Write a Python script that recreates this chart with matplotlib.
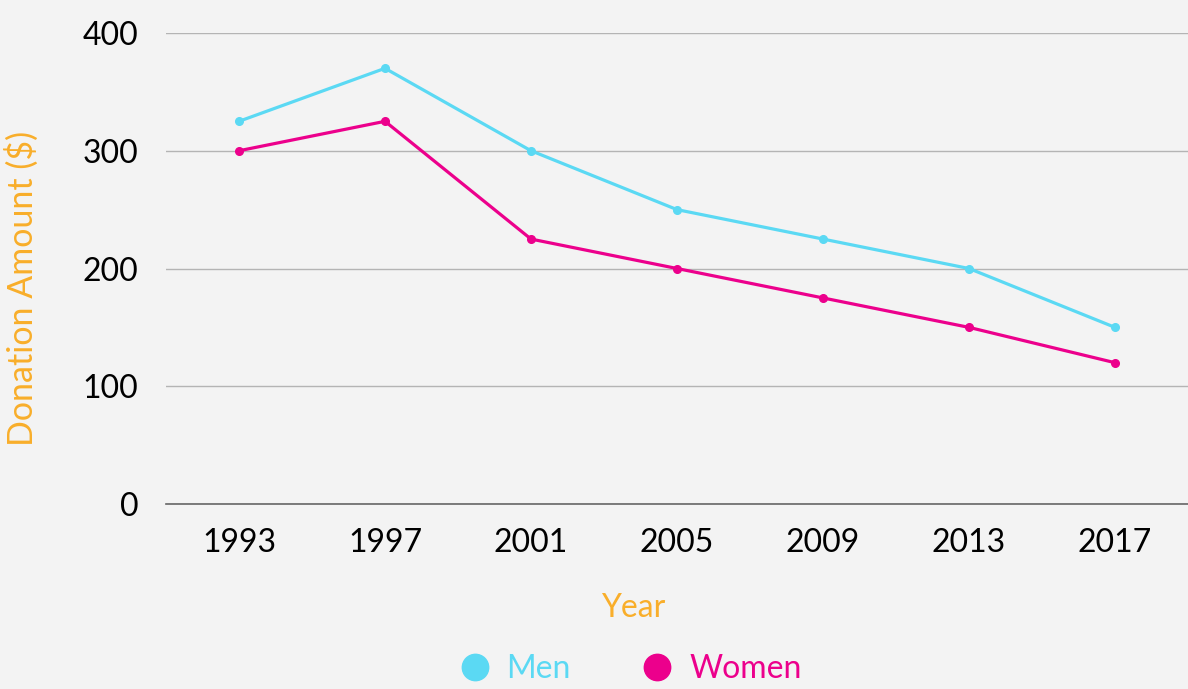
import matplotlib
matplotlib.use("Agg")
import matplotlib.pyplot as plt
from matplotlib.lines import Line2D

years = ["1993", "1997", "2001", "2005", "2009", "2013", "2017"]
men = [325, 370, 300, 250, 225, 200, 150]
women = [300, 325, 225, 200, 175, 150, 120]
yticks = [0, 100, 200, 300, 400]

MEN_C = "#5bd9f3"
WOMEN_C = "#ec008c"
LABEL_C = "#f9ae2a"
BG = "#f3f3f3"

plt.rcParams["font.family"] = ["Lato", "DejaVu Sans"]

fig = plt.figure(figsize=(11.88, 6.89), dpi=100, facecolor=BG)
ax = fig.add_axes([166/1188, 1 - 504/689, 1 - 166/1188, (504 - 33)/689])
ax.set_facecolor(BG)

x = list(range(len(years)))
ax.plot(x, men, color=MEN_C, lw=2.3, marker="o", ms=5.5, zorder=3)
ax.plot(x, women, color=WOMEN_C, lw=2.3, marker="o", ms=5.5, zorder=3)

ax.set_xlim(-0.5, len(years) - 0.5)
ax.set_ylim(0, 400)
ax.set_xticks(x)
ax.set_xticklabels(years)
ax.set_yticks(yticks)
ax.tick_params(axis="both", length=0, labelsize=23, colors="black")
ax.tick_params(axis="x", pad=17)
ax.tick_params(axis="y", pad=20)
ax.grid(axis="y", color="#b4b4b4", lw=1)
ax.set_axisbelow(True)
for s in ["left", "right", "top"]:
    ax.spines[s].set_visible(False)
ax.spines["bottom"].set_color("#666666")
ax.spines["bottom"].set_linewidth(1.2)

fig.text(633/1188, 1 - 608/689, "Year", color=LABEL_C, fontsize=23,
         ha="center", va="center")
fig.text(22/1188, 1 - 288/689, "Donation Amount ($)", color=LABEL_C, fontsize=24.5,
         ha="center", va="center", rotation=90)

handles = [Line2D([], [], ls="none", marker="o", ms=19, color=MEN_C),
           Line2D([], [], ls="none", marker="o", ms=19, color=WOMEN_C)]
leg = fig.legend(handles, ["Men", "Women"], loc="center", ncol=2,
                 bbox_to_anchor=(630/1188, 1 - 669/689), frameon=False,
                 fontsize=23, handletextpad=0.5, columnspacing=2.2,
                 handlelength=1.0)
for t, c in zip(leg.get_texts(), [MEN_C, WOMEN_C]):
    t.set_color(c)

fig.savefig("out.png", dpi=100, facecolor=BG)
